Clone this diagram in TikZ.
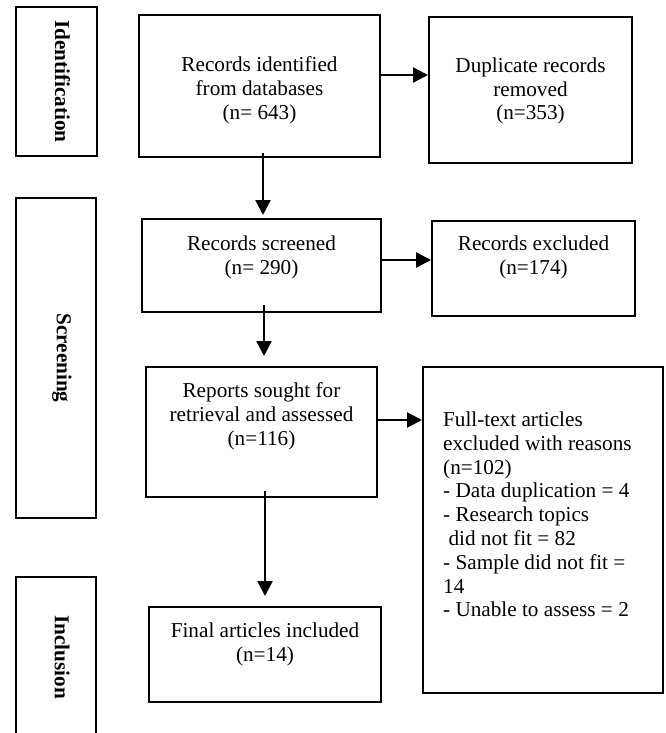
\documentclass[tikz,border=0pt]{standalone}
\usepackage{fontspec}
\setmainfont{Liberation Serif}
\usetikzlibrary{arrows.meta}
\tikzstyle{box} = [draw, line width=2pt, inner sep=0pt]
\tikzstyle{stage} = [draw, line width=1.3pt, inner sep=0pt]
\tikzstyle{txt} = [inner sep=0pt, align=center, font=\fontsize{21.2pt}{23.8pt}\selectfont]
\tikzstyle{stagetxt} = [inner sep=0pt, rotate=-90, font=\fontsize{21.2pt}{23.8pt}\selectfont\bfseries]
\tikzstyle{arrow} = [line width=2.4pt, -{Triangle[length=15pt,width=15pt]}]
\begin{document}
\begin{tikzpicture}[x=1pt,y=-1pt]
  \useasboundingbox (0,0) rectangle (665,733);
  % stage boxes on the left
  \node[stage, minimum width=81pt, minimum height=149pt] (ident) at (56.5,81.5) {};
  \node[stage, minimum width=80pt, minimum height=320pt] (screen) at (56,358) {};
  \node[stage, minimum width=80pt, minimum height=160pt] (incl) at (56,657) {};
  \node[stagetxt] (identtxt) at ([xshift=6pt]ident.center) {Identification};
  \node[stagetxt] (screentxt) at ([xshift=6pt]screen.center) {Screening};
  \node[stagetxt] (incltxt) at ([xshift=6pt]incl.center) {Inclusion};
  % flow boxes
  \node[box, minimum width=241pt, minimum height=142pt] (records) at (259.5,86) {};
  \node[box, minimum width=203pt, minimum height=146pt] (dupl) at (530.5,90) {};
  \node[box, minimum width=239pt, minimum height=93pt] (screened) at (261.5,265.5) {};
  \node[box, minimum width=203pt, minimum height=95pt] (excl) at (533.5,268.5) {};
  \node[box, minimum width=231pt, minimum height=130pt] (sought) at (261.5,432) {};
  \node[box, minimum width=240pt, minimum height=326pt] (fulltext) at (543,530) {};
  \node[box, minimum width=232pt, minimum height=95pt] (final) at (265,654.5) {};
  % texts
  \node[txt] (recordstxt) at ([yshift=-4pt]records.center) {Records identified\\from databases\\(n= 643)};
  \node[txt] (dupltxt) at ([yshift=-1pt]dupl.center) {Duplicate records\\removed\\(n=353)};
  \node[txt] (screenedtxt) at ([yshift=8pt]screened.center) {Records screened\\(n= 290)};
  \node[txt] (excltxt) at ([yshift=11pt]excl.center) {Records excluded\\(n=174)};
  \node[txt] (soughttxt) at ([yshift=16pt]sought.center) {Reports sought for\\retrieval and assessed\\(n=116)};
  \node[txt, align=left, anchor=west] (fulltexttxt) at ([xshift=21pt,yshift=15.5pt]fulltext.west) {Full-text articles\\excluded with reasons\\(n=102)\\- Data duplication = 4\\- Research topics\\\ did not fit = 82\\- Sample did not fit =\\14\\- Unable to assess = 2};
  \node[txt] (finaltxt) at ([yshift=10pt]final.center) {Final articles included\\(n=14)};
  % arrows
  \draw[arrow] ([yshift=11pt]records.east) -- ([yshift=15pt]dupl.west);
  \draw[arrow] ([xshift=3.5pt,yshift=5pt]records.south) -- ([xshift=1.5pt,yshift=3pt]screened.north);
  \draw[arrow] ([yshift=5.5pt]screened.east) -- ([yshift=8.5pt]excl.west);
  \draw[arrow] ([xshift=2.5pt,yshift=8pt]screened.south) -- ([xshift=2.5pt,yshift=10pt]sought.north);
  \draw[arrow] ([yshift=12pt]sought.east) -- ([yshift=110pt]fulltext.west);
  \draw[arrow] ([xshift=3.5pt,yshift=7pt]sought.south) -- ([yshift=10pt]final.north);
\end{tikzpicture}
\end{document}
